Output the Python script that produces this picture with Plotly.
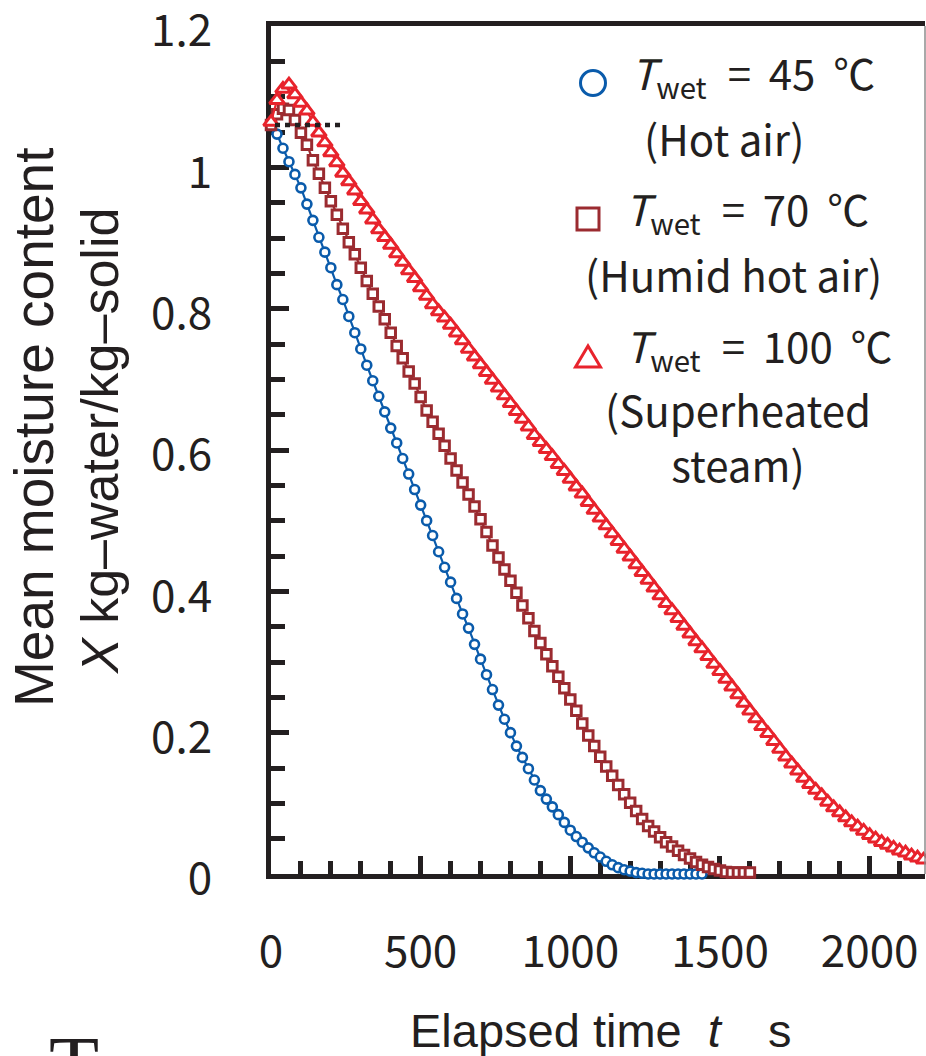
import plotly.graph_objects as go

# ---------------- data ----------------
TIME_STEP_S = 20  # sampling interval of every series, s

# T_wet = 45 degC (hot air)
X_HOT_AIR = [
    1.060, 1.047, 1.027, 1.008, 0.990, 0.971, 0.948, 0.925, 0.901, 0.880,
    0.858, 0.834, 0.813, 0.789, 0.766, 0.743, 0.720, 0.698, 0.676, 0.654,
    0.631, 0.610, 0.588, 0.566, 0.544, 0.522, 0.500, 0.479, 0.456, 0.434,
    0.413, 0.390, 0.368, 0.348, 0.325, 0.304, 0.282, 0.261, 0.239, 0.219,
    0.200, 0.181, 0.165, 0.149, 0.133, 0.118, 0.106, 0.095, 0.084, 0.073,
    0.062, 0.053, 0.045, 0.037, 0.030, 0.024, 0.018, 0.013, 0.009, 0.006,
    0.004, 0.002, 0.001, 0.000, 0.000, 0.000, 0.000, 0.000, 0.000, 0.000,
    0.000, 0.000, 0.000,
]

# T_wet = 70 degC (humid hot air)
X_HUMID_AIR = [
    1.060, 1.075, 1.083, 1.081, 1.067, 1.049, 1.032, 1.010, 0.991, 0.971,
    0.952, 0.933, 0.913, 0.894, 0.877, 0.858, 0.839, 0.821, 0.803, 0.785,
    0.766, 0.747, 0.730, 0.711, 0.694, 0.675, 0.656, 0.640, 0.623, 0.606,
    0.588, 0.571, 0.554, 0.537, 0.520, 0.502, 0.484, 0.465, 0.448, 0.431,
    0.415, 0.398, 0.380, 0.362, 0.344, 0.327, 0.311, 0.294, 0.279, 0.263,
    0.247, 0.231, 0.213, 0.196, 0.181, 0.166, 0.152, 0.139, 0.126, 0.113,
    0.101, 0.089, 0.078, 0.068, 0.060, 0.052, 0.045, 0.039, 0.033, 0.027,
    0.022, 0.017, 0.013, 0.010, 0.007, 0.005, 0.003, 0.002, 0.002, 0.002,
    0.002,
]

# T_wet = 100 degC (superheated steam)
X_STEAM = [
    1.064, 1.095, 1.111, 1.117, 1.103, 1.091, 1.080, 1.064, 1.049, 1.035,
    1.021, 1.007, 0.992, 0.980, 0.967, 0.952, 0.940, 0.926, 0.912, 0.901,
    0.890, 0.878, 0.866, 0.854, 0.843, 0.830, 0.818, 0.806, 0.796, 0.787,
    0.777, 0.766, 0.755, 0.743, 0.732, 0.721, 0.710, 0.699, 0.688, 0.677,
    0.666, 0.655, 0.644, 0.633, 0.621, 0.611, 0.601, 0.591, 0.580, 0.570,
    0.559, 0.548, 0.538, 0.526, 0.515, 0.504, 0.493, 0.482, 0.471, 0.460,
    0.449, 0.438, 0.427, 0.416, 0.405, 0.394, 0.383, 0.373, 0.362, 0.351,
    0.340, 0.329, 0.319, 0.308, 0.297, 0.287, 0.276, 0.265, 0.254, 0.242,
    0.231, 0.220, 0.209, 0.199, 0.188, 0.177, 0.166, 0.156, 0.146, 0.136,
    0.127, 0.119, 0.111, 0.102, 0.094, 0.087, 0.080, 0.073, 0.067, 0.061,
    0.055, 0.050, 0.045, 0.041, 0.037, 0.033, 0.030, 0.026, 0.023, 0.020,
    0.017,
]

INITIAL_X = 1.06              # dotted reference level
INITIAL_LINE_T = [-20, 245]   # extent of the dotted reference line, s

X_TICKS = [0, 500, 1000, 1500, 2000]
Y_TICKS = [0, 0.2, 0.4, 0.6, 0.8, 1.0, 1.2]
Y_TICK_TEXT = ["0", "0.2", "0.4", "0.6", "0.8", "1", "1.2"]
X_RANGE = [0, 2185]
Y_RANGE = [0, 1.2]

SERIES = [
    ("T_wet = 45 °C (Hot air)", X_HOT_AIR, "#0a5bab", "circle", 9, 2.6),
    ("T_wet = 70 °C (Humid hot air)", X_HUMID_AIR, "#9b2b30", "square", 9.5, 3),
    ("T_wet = 100 °C (Superheated steam)", X_STEAM, "#e8232c", "triangle-up", 13, 3),
]

INK = "#231f20"
FONT_TICK = "Noto Sans CJK JP"
FONT_TITLE = "Liberation Sans, Arial, sans-serif"
FONT_LEGEND = "Noto Sans CJK JP"

# ---------------- layout geometry ----------------
W, H = 926, 1056
PLOT_L, PLOT_R, PLOT_T, PLOT_B = 271, 925, 26, 874


def px_x(px):
    return (px - PLOT_L) / (PLOT_R - PLOT_L)


def px_y(py):
    return (PLOT_B - py) / (PLOT_B - PLOT_T)


fig = go.Figure()

for name, values, color, symbol, size, lw in SERIES:
    times = [i * TIME_STEP_S for i in range(len(values))]
    fig.add_trace(go.Scatter(
        x=times, y=values, name=name, mode="lines+markers",
        line=dict(color=color, width=2.2),
        marker=dict(symbol=symbol, size=size, color="white",
                    line=dict(color=color, width=lw)),
        cliponaxis=False, showlegend=False,
    ))

fig.add_trace(go.Scatter(
    x=INITIAL_LINE_T, y=[INITIAL_X, INITIAL_X], mode="lines",
    line=dict(color=INK, width=4.5, dash="5px,5px"),
    showlegend=False, hoverinfo="skip",
))

fig.update_layout(
    width=W, height=H,
    margin=dict(l=PLOT_L, r=W - PLOT_R, t=PLOT_T, b=H - PLOT_B, pad=0,
                autoexpand=False),
    paper_bgcolor="white", plot_bgcolor="white",
    showlegend=False,
)

fig.update_xaxes(
    range=X_RANGE, tickvals=X_TICKS, ticktext=[str(v) for v in X_TICKS],
    showgrid=False, zeroline=False, automargin=False,
    showline=True, linecolor=INK, linewidth=5, mirror=True,
    ticks="inside", ticklen=18, tickwidth=5, tickcolor=INK,
    minor=dict(dtick=100, tick0=0, ticks="inside", ticklen=13, tickwidth=5,
               tickcolor=INK, showgrid=False),
    tickfont=dict(family=FONT_TICK, size=44, color=INK),
    ticklabelstandoff=35, ticklabeloverflow="allow",
    layer="below traces",
)

fig.update_yaxes(
    range=[Y_RANGE[0], Y_RANGE[1] + 1e-6], tickvals=Y_TICKS, ticktext=Y_TICK_TEXT,
    showgrid=False, zeroline=False, automargin=False,
    showline=True, linecolor=INK, linewidth=5, mirror=False,
    ticks="inside", ticklen=18, tickwidth=5, tickcolor=INK,
    minor=dict(dtick=0.05, tick0=0, ticks="inside", ticklen=14, tickwidth=5,
               tickcolor=INK, showgrid=False),
    tickfont=dict(family=FONT_TICK, size=44, color=INK),
    ticklabelstandoff=45, ticklabelshift=5, ticklabeloverflow="allow",
    layer="below traces",
)

# thin right border
fig.add_shape(type="line", xref="paper", yref="paper", x0=1, x1=1, y0=0, y1=1,
              line=dict(color="#8c8c8c", width=1.5), layer="above")

annotations = []
# axis titles
annotations.append(dict(text="Mean moisture content", xref="paper", yref="paper",
                        x=px_x(34), y=px_y(428), xanchor="center", yanchor="middle",
                        textangle=-90, showarrow=False,
                        font=dict(family=FONT_TITLE, size=55, color=INK)))
annotations.append(dict(text="<i>X</i> kg–water/kg–solid", xref="paper", yref="paper",
                        x=px_x(100), y=px_y(441), xanchor="center", yanchor="middle",
                        textangle=-90, showarrow=False,
                        font=dict(family=FONT_TITLE, size=52, color=INK)))
annotations.append(dict(text="Elapsed time\u00a0\u00a0<i>t</i>\u2003s", xref="paper", yref="paper",
                        x=px_x(408), y=px_y(1030), xanchor="left", yanchor="middle",
                        showarrow=False,
                        font=dict(family=FONT_TITLE, size=47, color=INK)))
# fragment of a cropped glyph at the bottom-left edge of the reference
annotations.append(dict(text="T", xref="paper", yref="paper",
                        x=px_x(74), y=px_y(1018), xanchor="center", yanchor="top",
                        showarrow=False,
                        font=dict(family="Liberation Serif, serif", size=82, color=INK)))

# legend text
LEGEND_LINES = [
    ("<i>T</i><sub>wet</sub>\u2002= \u200945 \u2009℃", 630, 74, "left"),
    ("(Hot air)", 724, 137, "center"),
    ("<i>T</i><sub>wet</sub>\u2002= \u200970 \u2009℃", 624, 210, "left"),
    ("(Humid hot air)", 733, 273, "center"),
    ("<i>T</i><sub>wet</sub>\u2002= \u2009100 \u2009℃", 624, 347, "left"),
    ("(Superheated<br>steam)", 738, 436, "center"),
]
for txt, x, y, anchor in LEGEND_LINES:
    annotations.append(dict(text=txt, xref="paper", yref="paper",
                            x=px_x(x), y=px_y(y), xanchor=anchor, yanchor="middle",
                            align="center", showarrow=False, borderpad=0,
                            font=dict(family=FONT_LEGEND, size=42, color=INK)))
fig.update_layout(annotations=annotations)

# legend symbols (pixel-sized shapes)
c_col, s_col, t_col = SERIES[0][2], SERIES[1][2], SERIES[2][2]
fig.add_shape(type="circle", xref="paper", yref="paper",
              xsizemode="pixel", ysizemode="pixel",
              xanchor=px_x(593), yanchor=px_y(83),
              x0=-12.5, x1=12.5, y0=-12.5, y1=12.5,
              line=dict(color=c_col, width=3), fillcolor="white")
fig.add_shape(type="rect", xref="paper", yref="paper",
              xsizemode="pixel", ysizemode="pixel",
              xanchor=px_x(588), yanchor=px_y(219),
              x0=-11, x1=11, y0=-11, y1=11,
              line=dict(color=s_col, width=3), fillcolor="white")
fig.add_shape(type="path", xref="paper", yref="paper",
              xsizemode="pixel", ysizemode="pixel",
              xanchor=px_x(588), yanchor=px_y(357),
              path="M -12.5,-10 L 12.5,-10 L 0,11 Z",
              line=dict(color=t_col, width=3), fillcolor="white")

fig.write_html(
    "out.html",
    config={"displayModeBar": False},
    post_script="document.body.style.margin='0';document.body.style.overflow='hidden';",
)
